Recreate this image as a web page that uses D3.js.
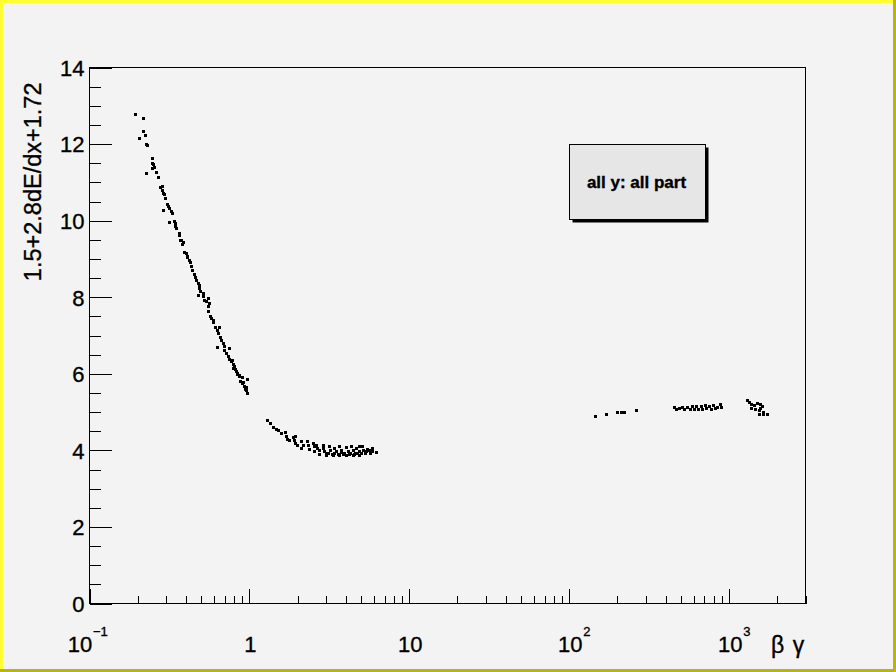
<!DOCTYPE html>
<html>
<head>
<meta charset="utf-8">
<script src="https://cdn.jsdelivr.net/npm/d3@7"></script>
<style>
  html, body { margin: 0; padding: 0; background: #f3f3f3; }
  svg { display: block; }
  text { font-family: "Liberation Sans", Arial, Helvetica, sans-serif; fill: #000; stroke: #000; stroke-width: 0.35px; }
</style>
</head>
<body>
<svg id="chart" width="896" height="672"></svg>
<script>
// ---- data ----
const betaGamma = [
  0.193,0.217,0.217,0.223,0.205,0.226,0.230,0.247,0.248,0.250,0.254,0.247,0.226,0.261,0.269,0.278,0.285,0.285,0.289,0.295,
  0.298,0.289,0.306,0.312,0.315,0.324,0.328,0.315,0.339,0.344,0.346,0.351,0.364,0.368,0.371,0.378,0.385,0.382,0.393,0.405,
  0.408,0.412,0.420,0.429,0.432,0.439,0.451,0.461,0.467,0.478,0.485,0.485,0.495,0.478,0.514,0.519,0.527,0.540,0.552,0.560,
  0.552,0.555,0.572,0.582,0.593,0.599,0.617,0.653,0.629,0.641,0.660,0.672,0.685,0.699,0.629,0.747,0.702,0.719,0.736,0.755,
  0.773,0.791,0.811,0.822,0.838,0.863,0.906,0.967,0.880,0.906,0.936,0.959,0.967,0.959,0.847,0.799,
  0.78,0.83,0.87,0.92,0.95,
  1.290,1.355,1.406,1.477,1.520,1.586,1.671,1.705,1.737,1.788,1.894,1.949,1.921,1.949,1.986,2.116,2.165,2.116,2.293,2.326,
  2.360,2.500,2.562,2.625,2.648,2.562,2.753,2.886,2.915,2.958,3.031,3.148,3.212,3.304,3.416,3.500,3.581,3.670,3.762,3.849,
  4.042,4.136,4.238,4.343,4.444,4.553,4.667,4.844,4.893,5.086,5.183,5.388,5.513,5.649,5.874,5.925,6.22,
  2.753,3.031,3.333,3.670,4.042,4.444,4.893,
  3.10,3.40,3.75,3.95,4.30,4.60,4.75,5.00,5.30,5.75,
  145.8,171.5,200.9,210.9,221.2,264.0,
  454.1,469.3,487.9,511.6,524.2,549.8,569.1,590.8,605.4,625.8,644.1,666.7,682.2,709.1,722.5,751.1,769.6,795.5,818.7,846.1,
  888.6,901.5,
  1303,1335,1388,1435,1504,1579,1616,1388,1470,1542,1633,1579,1542,1633,1738
];
const dEdx = [
  12.77,12.67,12.33,12.22,12.14,12.00,11.96,11.62,11.49,11.47,11.39,11.36,11.23,11.26,11.13,10.86,10.88,10.79,10.71,10.67,
  10.57,10.26,10.41,10.36,10.32,10.25,10.19,9.95,9.99,9.92,9.85,9.79,9.66,9.62,9.49,9.47,9.42,9.38,9.17,9.14,
  9.07,9.04,8.95,8.91,8.79,8.70,8.60,8.51,8.44,8.37,8.31,8.23,8.14,8.04,8.10,8.01,7.92,7.88,7.97,7.84,
  7.75,7.63,7.50,7.44,7.38,7.33,7.22,7.21,7.14,7.05,6.95,6.86,6.79,6.70,6.69,6.66,6.62,6.54,6.46,6.37,
  6.31,6.25,6.18,6.11,6.02,5.92,5.90,5.85,5.81,5.75,5.66,5.57,5.48,5.64,5.99,6.15,
  6.34,6.07,5.96,5.78,5.60,
  4.79,4.70,4.61,4.54,4.51,4.44,4.46,4.37,4.28,4.26,4.34,4.37,4.26,4.18,4.13,4.22,4.13,4.05,4.22,4.13,
  4.02,4.18,4.09,4.13,4.05,3.96,4.00,4.13,4.05,3.96,3.92,4.09,3.99,3.90,4.05,3.96,3.90,4.09,3.99,3.90,
  4.07,3.96,3.90,4.09,3.99,3.90,4.05,4.11,3.96,4.09,4.00,3.96,4.02,3.99,4.05,3.96,3.94,
  3.88,3.87,3.87,3.86,3.86,3.87,3.87,
  3.93,3.93,3.94,3.92,3.93,3.93,3.92,3.93,3.92,3.92,
  4.89,4.94,4.99,4.99,4.99,5.05,
  5.12,5.07,5.09,5.13,5.07,5.13,5.07,5.15,5.07,5.15,5.07,5.15,5.07,5.18,5.09,5.15,5.07,5.18,5.09,5.13,
  5.20,5.12,
  5.31,5.24,5.20,5.18,5.22,5.20,5.15,5.09,5.07,5.03,5.00,5.09,4.94,4.94,4.94
];
const xDomain = [0.1, 3000];
const yDomain = [0, 14];
const xMajorTicks = [0.1, 1, 10, 100, 1000];
const xTickBase = ["10", "1", "10", "10", "10"];
const xTickExp  = ["\u22121", "", "", "2", "3"];
const yMajorTicks = [0, 2, 4, 6, 8, 10, 12, 14];
const xTitleParts = ["\u03b2", "\u03b3"];
const yTitle = "1.5+2.8dE/dx+1.72";
const legendText = "all y: all part";

// ---- drawing ----
(function () {
const W = 896, H = 672;
const svg = d3.select("#chart");
const pLeft = 89.5, pRight = 805.5, pTop = 67.5, pBottom = 603.5;

// canvas background and bevelled yellow border
svg.append("rect").attr("x", 0).attr("y", 0).attr("width", W).attr("height", H).attr("fill", "#f3f3f3");
svg.append("rect").attr("x", 0).attr("y", 0).attr("width", W).attr("height", 3).attr("fill", "#ffff33");
svg.append("rect").attr("x", 0).attr("y", 0).attr("width", 3).attr("height", H).attr("fill", "#ffff33");
svg.append("rect").attr("x", 0).attr("y", H - 3).attr("width", W).attr("height", 3).attr("fill", "#b8b800");
svg.append("rect").attr("x", W - 3).attr("y", 0).attr("width", 3).attr("height", H).attr("fill", "#b8b800");

const x = d3.scaleLog().domain(xDomain).range([pLeft, pRight]);
const y = d3.scaleLinear().domain(yDomain).range([pBottom, pTop]);

// frame
svg.append("rect").attr("x", pLeft).attr("y", pTop).attr("width", pRight - pLeft).attr("height", pBottom - pTop)
  .attr("fill", "none").attr("stroke", "#000").attr("stroke-width", 1);

// minor x ticks
const xMinor = [];
for (let e = -1; e <= 3; e++) {
  for (let m = 2; m <= 9; m++) {
    const v = m * Math.pow(10, e);
    if (v <= xDomain[1]) xMinor.push(v);
  }
}
const gx = svg.append("g").attr("transform", `translate(0,${pBottom})`);
gx.call(d3.axisBottom(x).tickValues(xMinor).tickSize(-7.5).tickFormat("").tickSizeOuter(0));
gx.call(g => g.select(".domain").remove());
const gx2 = svg.append("g").attr("transform", `translate(0,${pBottom})`);
gx2.call(d3.axisBottom(x).tickValues(xMajorTicks).tickSize(-15).tickFormat("").tickSizeOuter(0));
gx2.call(g => g.select(".domain").remove());

// x tick labels (with superscripts)
xMajorTicks.forEach((v, i) => {
  const px = x(v);
  const hasExp = xTickExp[i] !== "";
  const shift = (i === 0) ? -9.5 : 1;
  svg.append("text").attr("x", px + shift).attr("y", 652)
    .attr("text-anchor", "middle").attr("font-size", 22).text(xTickBase[i]);
  if (hasExp) {
    svg.append("text").attr("x", px + shift + 13).attr("y", 636)
      .attr("text-anchor", "start").attr("font-size", 13).text(xTickExp[i]);
  }
});

// y axis
const yMinor = d3.range(0, 14.01, 0.5).filter(v => v % 2 !== 0);
const gy = svg.append("g").attr("transform", `translate(${pLeft},0)`);
gy.call(d3.axisLeft(y).tickValues(yMinor).tickSize(-11).tickFormat("").tickSizeOuter(0));
gy.call(g => g.select(".domain").remove());
const gy2 = svg.append("g").attr("transform", `translate(${pLeft},0)`);
gy2.call(d3.axisLeft(y).tickValues(yMajorTicks).tickSize(-22).tickPadding(5).tickFormat(d3.format("d")).tickSizeOuter(0));
gy2.call(g => g.select(".domain").remove());
gy2.selectAll("text").attr("font-size", 22).attr("font-family", "Liberation Sans, Arial, sans-serif")
  .attr("fill", "#000").attr("stroke", "#000").attr("stroke-width", 0.35).attr("dy", "0.36em");
svg.selectAll("g line").attr("stroke", "#000").attr("shape-rendering", "crispEdges");

// axis titles
svg.append("text").attr("x", 777.5).attr("y", 653).attr("text-anchor", "middle").attr("font-size", 23)
  .text(xTitleParts[0]);
svg.append("text").attr("x", 798.5).attr("y", 653).attr("text-anchor", "middle").attr("font-size", 23)
  .text(xTitleParts[1]);
svg.append("text").attr("transform", `translate(40.5,${pTop + 15}) rotate(-90)`)
  .attr("text-anchor", "end").attr("font-size", 23.5).text(yTitle);

// data points
const pts = betaGamma.map((b, i) => [b, dEdx[i]]);
svg.append("g").selectAll("rect").data(pts).join("rect")
  .attr("x", d => Math.round(x(d[0]) - 1.5))
  .attr("y", d => Math.round(y(d[1]) - 1.5))
  .attr("width", 3).attr("height", 3)
  .attr("fill", "#000").attr("shape-rendering", "crispEdges");

// legend box with shadow
const lx = 569.5, ly = 144.5, lw = 136, lh = 75;
svg.append("rect").attr("x", lx + 3).attr("y", ly + 3).attr("width", lw).attr("height", lh).attr("fill", "#000");
svg.append("rect").attr("x", lx).attr("y", ly).attr("width", lw).attr("height", lh)
  .attr("fill", "#e6e6e6").attr("stroke", "#000").attr("stroke-width", 1);
svg.append("text").attr("x", lx + lw / 2 - 1).attr("y", ly + 43).attr("text-anchor", "middle")
  .attr("font-size", 17).attr("font-weight", "bold").attr("stroke-width", 0.2).text(legendText);
})();
</script>
</body>
</html>
